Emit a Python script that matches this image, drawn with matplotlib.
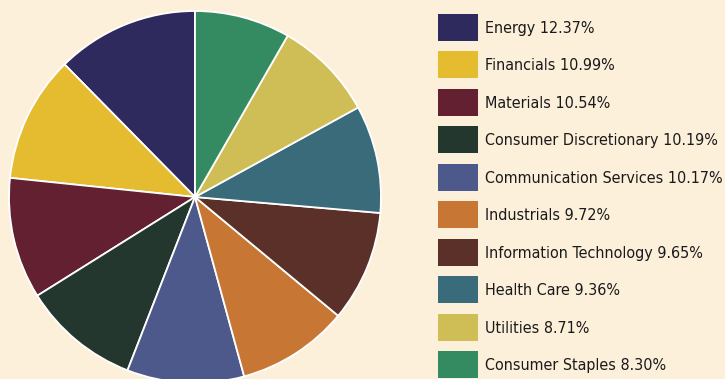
import matplotlib
matplotlib.use("Agg")
import matplotlib.pyplot as plt
from matplotlib.patches import Rectangle

sectors = ["Energy", "Financials", "Materials", "Consumer Discretionary",
           "Communication Services", "Industrials", "Information Technology",
           "Health Care", "Utilities", "Consumer Staples"]
weights = [12.37, 10.99, 10.54, 10.19, 10.17, 9.72, 9.65, 9.36, 8.71, 8.30]
colors = ["#2F2A5E", "#E5BB2F", "#632030", "#24372F", "#4D598B",
          "#C87633", "#5A3029", "#3A6B7A", "#CFBE55", "#348B62"]

bg = "#FCF0DB"
W, H = 725, 379

fig = plt.figure(figsize=(W / 100, H / 100), dpi=100, facecolor=bg)

# pie: centre (195, 197) px, radius 186 px
cx, cy, r = 195, 197, 186
ax = fig.add_axes([(cx - r) / W, (H - cy - r) / H, 2 * r / W, 2 * r / H])
ax.pie(weights, colors=colors, startangle=90, counterclock=True,
       wedgeprops=dict(edgecolor="white", linewidth=1.3))
ax.set_xlim(-1, 1)
ax.set_ylim(-1, 1)
ax.set_aspect("equal")
ax.axis("off")

# legend
for i, (name, val, c) in enumerate(zip(sectors, weights, colors)):
    top = 14 + 37.45 * i
    fig.add_artist(Rectangle((438 / W, 1 - (top + 27) / H), 40 / W, 27 / H,
                             transform=fig.transFigure, facecolor=c,
                             edgecolor="none"))
    fig.text(485 / W, 1 - (top + 14.5) / H, f"{name} {val:.2f}%",
             ha="left", va="center", fontsize=11.5, color="#1a1a1a",
             family="DejaVu Sans", stretch="condensed")

fig.savefig("out.png", dpi=100, facecolor=bg)
